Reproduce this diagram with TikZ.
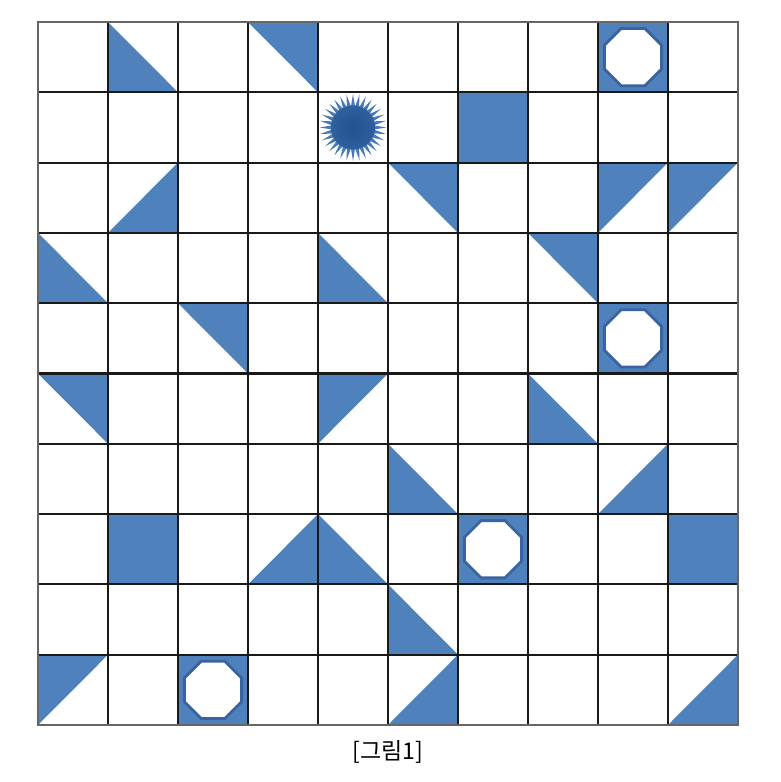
\documentclass[tikz,border=0pt]{standalone}
\usepackage{fontspec}
\newfontfamily\krfont{Noto Sans CJK KR}
\usetikzlibrary{shapes.geometric}
\definecolor{tb}{HTML}{4F81BD}
\definecolor{tbd}{HTML}{3A64A0}
\definecolor{sb}{HTML}{23518F}
\tikzset{
  cellfill/.style={fill=tb},
  octa/.style={regular polygon, regular polygon sides=8, minimum size=62pt, inner sep=0pt, fill=white, draw=tbd, line width=2.8pt},
  gridline/.style={line width=2.1pt, black!90},
  borderline/.style={line width=2.1pt, black!60}
}
\begin{document}
\begin{tikzpicture}[x=1pt,y=-1pt]
\useasboundingbox (0,0) rectangle (780,782);
\fill[white] (0,0) rectangle (780,782);
\begin{scope}[shift={(38,22)}, x=70pt, y=-70.3pt]
  % triangles with right angle at bottom-left
  \foreach \c/\r in {1/0,0/3,4/3,7/5,5/6,4/7,5/8}
    \fill[cellfill] (\c,\r) -- (\c,{\r+1}) -- ({\c+1},{\r+1}) -- cycle;
  % right angle at top-right
  \foreach \c/\r in {3/0,5/2,7/3,2/4,0/5}
    \fill[cellfill] (\c,\r) -- ({\c+1},\r) -- ({\c+1},{\r+1}) -- cycle;
  % right angle at bottom-right
  \foreach \c/\r in {1/2,8/6,3/7,5/9,9/9}
    \fill[cellfill] ({\c+1},\r) -- ({\c+1},{\r+1}) -- (\c,{\r+1}) -- cycle;
  % right angle at top-left
  \foreach \c/\r in {8/2,9/2,4/5,0/9}
    \fill[cellfill] (\c,\r) -- ({\c+1},\r) -- (\c,{\r+1}) -- cycle;
  % full squares
  \foreach \c/\r in {6/1,1/7,9/7}
    \fill[cellfill] (\c,\r) rectangle ({\c+1},{\r+1});
  % octagon cells
  \foreach \c/\r [count=\i] in {8/0,8/4,6/7,2/9}{
    \fill[cellfill] (\c,\r) rectangle ({\c+1},{\r+1});
    \node[octa] (oct\i) at ({\c+0.5},{\r+0.5}) {};
  }
  % burst
  \node[star, star points=32, star point ratio=1.6, minimum size=67pt, inner sep=0pt, fill=tb!85!sb] (burst) at (4.5,1.5) {};
  \node[circle, minimum size=44pt, inner sep=0pt, inner color=sb, outer color=sb!70!tb] (burstcore) at (4.5,1.5) {};
  % grid
  \foreach \k in {1,...,9}{
    \draw[gridline] (\k,0) -- (\k,10);
    \draw[gridline] (0,\k) -- (10,\k);
  }
  \draw[borderline] (0,0) rectangle (10,10);
\end{scope}
\node[font=\krfont\fontsize{23}{26}\selectfont] (cap) at (388,752) {[그림1]};
\end{tikzpicture}
\end{document}
